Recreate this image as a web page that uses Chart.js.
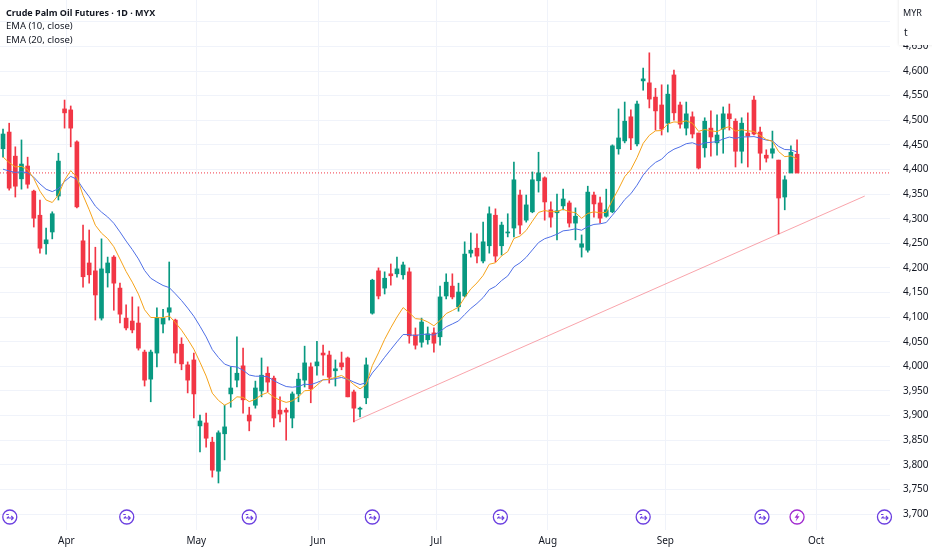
<!DOCTYPE html>
<html><head><meta charset="utf-8">
<script src="https://cdn.jsdelivr.net/npm/chart.js@4.4.1/dist/chart.umd.min.js"></script>
<style>html,body{margin:0;padding:0;background:#fff;}#wrap{width:932px;height:550px;position:relative;}</style>
</head><body><div id="wrap"><canvas id="c"></canvas></div>
<script>
const openP = [4442,4476,4427,4381,4407,4356,4307,4249,4273,4346,
4523,4521,4456,4255,4210,4194,4098,4190,4222,4159,
4098,4092,4088,4029,3974,4027,4086,4110,4094,4045,
4003,4013,3879,3885,3846,3787,3863,3944,3972,4001,
3901,3921,3950,3986,3976,3911,3911,3895,3944,3972,
3999,4001,4027,4023,3991,4007,4017,3948,3913,3936,
4108,4194,4159,4188,4188,4186,4192,4064,4049,4054,
4068,4060,4143,4163,4121,4143,4230,4240,4214,4245,
4307,4245,4271,4281,4348,4297,4314,4377,4383,4318,
4312,4326,4332,4291,4242,4236,4348,4332,4305,4314,
4442,4458,4507,4452,4580,4576,4547,4531,4494,4592,
4531,4484,4507,4474,4444,4484,4454,4482,4513,4498,
4437,4474,4541,4476,4429,4433,4419,4344,4393,4431];
const closeP = [4472,4362,4366,4411,4370,4301,4240,4257,4310,4417,
4515,4484,4324,4182,4186,4145,4198,4210,4169,4106,
4078,4074,4037,3972,4029,4098,4098,4119,4027,4005,
3972,3944,3889,3854,3789,3865,3877,3956,3986,3932,
3889,3956,3982,3968,3895,3903,3907,3944,3974,4007,
3954,4009,4023,3978,3995,3999,3938,3915,3915,4003,
4175,4143,4179,4184,4198,4206,4062,4043,4090,4066,
4047,4141,4171,4141,4151,4228,4236,4224,4253,4310,
4224,4287,4273,4379,4287,4328,4379,4393,4334,4303,
4316,4340,4291,4305,4249,4354,4330,4301,4318,4448,
4464,4498,4464,4533,4584,4543,4519,4482,4553,4515,
4492,4513,4472,4403,4498,4466,4470,4513,4503,4437,
4494,4468,4472,4433,4423,4442,4342,4379,4435,4393];
const highP = [4482,4494,4446,4460,4425,4358,4338,4281,4314,4433,
4541,4529,4458,4287,4277,4242,4259,4222,4225,4169,
4125,4141,4121,4033,4033,4119,4116,4212,4096,4058,
4009,4027,3901,3905,3856,3869,3921,3999,4060,4037,
3917,3970,4017,3999,3980,3938,3915,3948,3986,4041,
4007,4051,4043,4031,4013,4029,4019,3952,3917,4017,
4177,4200,4192,4208,4222,4212,4200,4078,4098,4080,
4078,4163,4188,4188,4169,4253,4271,4269,4293,4324,
4320,4293,4310,4415,4358,4348,4395,4435,4385,4334,
4350,4360,4336,4322,4267,4366,4354,4344,4360,4450,
4523,4537,4521,4539,4606,4637,4565,4572,4572,4602,
4537,4537,4517,4474,4505,4519,4511,4527,4533,4503,
4505,4515,4549,4486,4440,4478,4419,4387,4448,4460];
const lowP = [4425,4358,4344,4360,4362,4283,4230,4228,4259,4338,
4484,4446,4322,4161,4169,4094,4094,4161,4114,4088,
4074,4068,4033,3960,3928,3999,4068,4094,4007,3993,
3946,3895,3826,3836,3775,3763,3810,3917,3958,3905,
3869,3915,3938,3948,3877,3887,3850,3875,3928,3958,
3926,3982,3982,3966,3960,3993,3938,3887,3897,3924,
4106,4137,4147,4165,4181,4177,4047,4035,4039,4045,
4029,4043,4137,4137,4112,4141,4222,4210,4210,4230,
4212,4226,4263,4263,4269,4293,4312,4354,4297,4283,
4257,4318,4283,4257,4222,4232,4303,4291,4303,4312,
4431,4454,4440,4448,4561,4525,4480,4470,4476,4500,
4484,4470,4464,4401,4425,4427,4429,4433,4480,4405,
4413,4405,4470,4399,4415,4423,4269,4318,4393,4393];

const monthLabels = ['Apr','May','Jun','Jul','Aug','Sep','Oct'];
const monthPos = [10.3, 31.4, 51.2, 70.4, 88.5, 107.6, 132.1];
const yTickValues = [3700,3750,3800,3850,3900,3950,4000,4050,4100,4150,4200,4250,4300,4350,4400,4450,4500,4550,4600,4650,4700];
const ema10Seed = 4415;
const ema20Seed = 4393;
const trendX = [57, 140];
const trendY = [3888, 4346];
const eventIdx = [1.1, 20.1, 40, 60, 80.8, 104, 123.3, 143.2];
const lightningIdx = 129;

const UP = '#089981', DOWN = '#f23645';
const FONT = "'Noto Sans', 'Liberation Sans', sans-serif";

function ema(src, n, seed) {
  const k = 2 / (n + 1); let e = seed;
  return src.map(c => (e = e + k * (c - e)));
}
const idx = closeP.map((_, i) => i);
const cols = idx.map(i => closeP[i] >= openP[i] ? UP : DOWN);
const ema10 = ema(closeP, 10, ema10Seed);
const ema20 = ema(closeP, 20, ema20Seed);
const lastClose = closeP[closeP.length - 1];
const X_MIN = -0.49, X_MAX = 144.1;

const overlay = {
  id: 'overlay',
  afterDatasetsDraw(chart) {
    const ctx = chart.ctx, xs = chart.scales.x;
    const yIcon = 517;
    function circle(x, color) {
      ctx.beginPath(); ctx.arc(x, yIcon, 7, 0, Math.PI * 2);
      ctx.fillStyle = '#fff'; ctx.fill();
      ctx.lineWidth = 1.3; ctx.strokeStyle = color; ctx.stroke();
    }
    ctx.save();
    eventIdx.forEach(v => {
      const x = xs.getPixelForValue(v);
      const c = '#6b3fe0';
      circle(x, c);
      ctx.beginPath();
      ctx.moveTo(x - 3.5, yIcon - 2.5); ctx.lineTo(x - 1, yIcon - 2.5);
      ctx.moveTo(x - 3, yIcon + 1.5); ctx.lineTo(x - 1, yIcon - 0.5);
      ctx.moveTo(x - 1.5, yIcon + 1); ctx.lineTo(x + 3.5, yIcon + 1);
      ctx.moveTo(x + 1.5, yIcon - 1); ctx.lineTo(x + 3.5, yIcon + 1); ctx.lineTo(x + 1.5, yIcon + 3);
      ctx.lineWidth = 1.1; ctx.strokeStyle = c; ctx.stroke();
    });
    const lx = xs.getPixelForValue(lightningIdx);
    circle(lx, '#a12ad0');
    ctx.beginPath();
    ctx.moveTo(lx + 1.5, yIcon - 4.5); ctx.lineTo(lx - 2.5, yIcon + 0.8); ctx.lineTo(lx - 0.2, yIcon + 0.8);
    ctx.lineTo(lx - 1.5, yIcon + 4.5); ctx.lineTo(lx + 2.5, yIcon - 0.8); ctx.lineTo(lx + 0.2, yIcon - 0.8);
    ctx.closePath(); ctx.fillStyle = '#a12ad0'; ctx.fill();
    ctx.restore();
  },
  afterDraw(chart) {
    const ctx = chart.ctx;
    ctx.save();
    ctx.textBaseline = 'middle'; ctx.textAlign = 'left';
    ctx.fillStyle = '#131722';
    ctx.font = "bold 9px " + FONT;
    ctx.fillText('Crude Palm Oil Futures · 1D · MYX', 6, 13);
    ctx.font = "9.5px " + FONT;
    ctx.fillText('EMA (10, close)', 6, 26);
    ctx.fillText('EMA (20, close)', 6, 40);
    ctx.fillStyle = '#fff';
    ctx.shadowColor = 'rgba(0,0,0,0.12)'; ctx.shadowBlur = 3;
    ctx.fillRect(899, -2, 36, 47);
    ctx.shadowBlur = 0;
    ctx.fillStyle = '#131722';
    ctx.font = "9px " + FONT;
    ctx.fillText('MYR', 903, 13);
    ctx.font = "10px " + FONT;
    ctx.fillText('t', 904, 33);
    ctx.restore();
  }
};

new Chart(document.getElementById('c'), {
  type: 'bar',
  data: {
    datasets: [
      { type: 'line', label: 'last', data: [{x: X_MIN, y: lastClose}, {x: X_MAX, y: lastClose}],
        borderColor: DOWN, borderWidth: 1, borderDash: [1, 2], pointRadius: 0, order: 5 },
      { type: 'line', label: 'trend', data: trendX.map((x, i) => ({x, y: trendY[i]})),
        borderColor: 'rgba(242,54,69,0.45)', borderWidth: 1, pointRadius: 0, order: 4 },
      { type: 'bar', label: 'wick', data: idx.map(i => ({x: i, y: [lowP[i], highP[i]]})),
        backgroundColor: cols, barThickness: 1, grouped: false, order: 3 },
      { type: 'bar', label: 'body', data: idx.map(i => ({x: i, y: [openP[i], closeP[i]]})),
        backgroundColor: cols, barThickness: 4, grouped: false, minBarLength: 1, order: 2 },
      { type: 'line', label: 'EMA20', data: idx.map(i => ({x: i, y: ema20[i]})),
        borderColor: '#4f6fe6', borderWidth: 1, pointRadius: 0, tension: 0, order: 1 },
      { type: 'line', label: 'EMA10', data: idx.map(i => ({x: i, y: ema10[i]})),
        borderColor: '#f5a31a', borderWidth: 1, pointRadius: 0, tension: 0, order: 0 }
    ]
  },
  options: {
    responsive: true, maintainAspectRatio: false, animation: false,
    layout: { padding: 0 },
    plugins: { legend: { display: false }, tooltip: { enabled: false } },
    scales: {
      x: {
        type: 'linear', min: X_MIN, max: X_MAX, offset: false,
        afterBuildTicks: s => { s.ticks = monthPos.map(v => ({value: v})); },
        afterFit: s => { s.height = 20; s.paddingLeft = 0; s.paddingRight = 0; },
        ticks: { callback: (v, i) => monthLabels[i], autoSkip: false, maxRotation: 0,
          font: { family: FONT, size: 10 }, color: '#131722', padding: 5 },
        grid: { color: '#f0f3fa', drawTicks: false, offset: false },
        border: { display: false }
      },
      y: {
        type: 'linear', position: 'right', min: 3667.5, max: 4744.3,
        afterBuildTicks: s => { s.ticks = yTickValues.map(v => ({value: v})); },
        afterFit: s => { s.width = 42; s.paddingTop = 0; s.paddingBottom = 0; },
        ticks: { callback: v => v.toLocaleString('en-US'), padding: 13,
          font: { family: FONT, size: 10 }, color: '#131722' },
        grid: { color: '#f0f3fa', drawTicks: false },
        border: { display: false }
      }
    }
  },
  plugins: [overlay]
});
</script></body></html>
